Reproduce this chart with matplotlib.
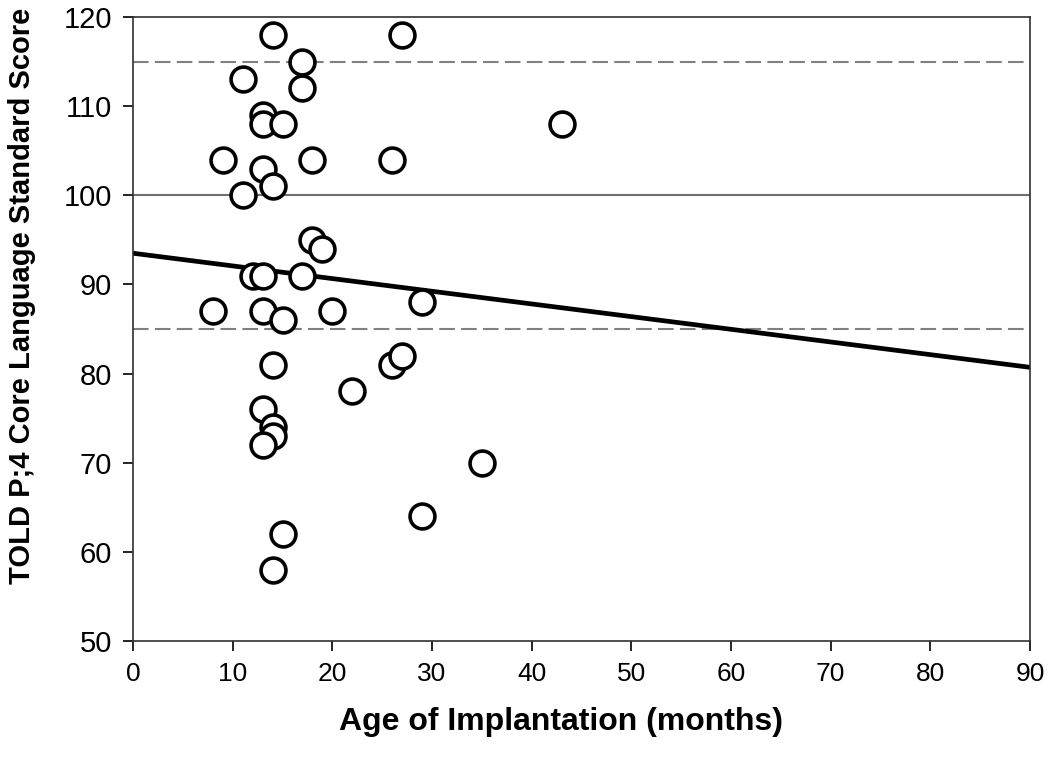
import numpy as np
import matplotlib.pyplot as plt

plt.rcParams['font.family'] = ['Liberation Sans', 'DejaVu Sans']

# age of implantation (months) and TOLD P:4 core language score
age = [14, 27, 17, 11, 17, 13, 13, 15, 43, 9, 18, 26, 13, 14, 11,
       18, 19, 12, 13, 17, 8, 13, 15, 20, 29, 14, 26, 27, 22, 13,
       14, 14, 13, 35, 29, 15, 14]
score = [118, 118, 115, 113, 112, 109, 108, 108, 108, 104, 104, 104, 103, 101, 100,
         95, 94, 91, 91, 91, 87, 87, 86, 87, 88, 81, 81, 82, 78, 76,
         74, 73, 72, 70, 64, 62, 58]

# regression line end points
fit_x = [0, 90]
fit_y = [93.5, 80.7]

mean_line = 100
sd_lines = [85, 115]


def main():
    fig = plt.figure(figsize=(10.5, 7.63), dpi=100)
    ax = fig.add_axes([0.1267, 0.1599, 0.8543, 0.8178])

    ax.axhline(mean_line, color='#707070', lw=1.5, zorder=1)
    for y in sd_lines:
        ax.axhline(y, color='#808080', lw=1.5, ls=(0, (7.5, 3)), zorder=1)

    ax.plot(fit_x, fit_y, color='black', lw=3.4, zorder=2)
    ax.scatter(age, score, s=320, facecolor='white', edgecolor='black',
               linewidth=2.6, zorder=3)

    ax.set_xlim(0, 90)
    ax.set_ylim(50, 120)
    ax.set_xticks(range(0, 91, 10))
    ax.set_yticks(range(50, 121, 10))
    ax.tick_params(direction='out', length=7, width=1.2, pad=8)
    ax.tick_params(axis='y', labelsize=21)
    ax.tick_params(axis='x', labelsize=19)
    for s in ax.spines.values():
        s.set_linewidth(1.2)
        s.set_color('#303030')

    ax.set_xlabel('Age of Implantation (months)', fontsize=23,
                  fontweight='bold', va='center')
    ax.set_ylabel('TOLD P;4 Core Language Standard Score', fontsize=21,
                  fontweight='bold', va='center')
    ax.xaxis.set_label_coords(0.477, -0.13)
    ax.yaxis.set_label_coords(-0.124, 0.553)

    fig.savefig('out.png', dpi=100)


if __name__ == '__main__':
    main()
